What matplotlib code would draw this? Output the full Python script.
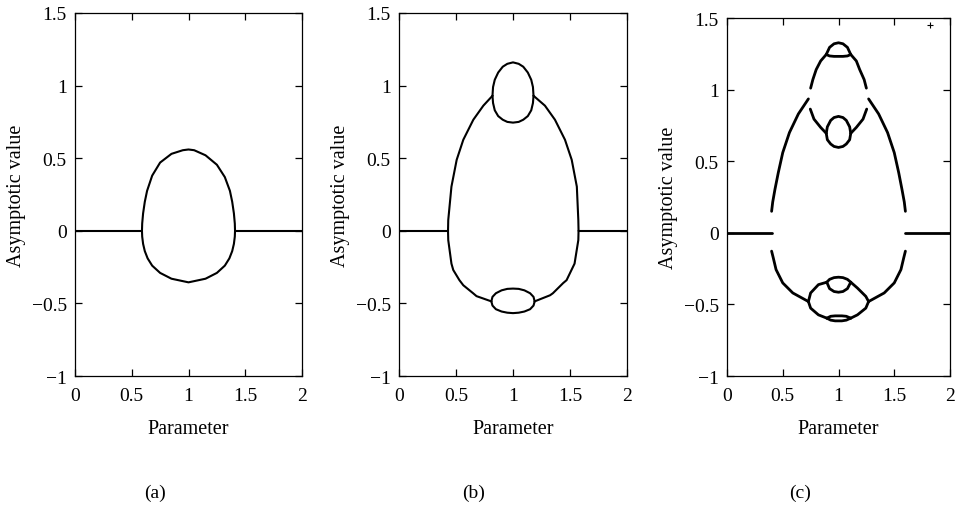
import matplotlib
matplotlib.use("Agg")
import matplotlib.pyplot as plt

plt.rcParams['font.family'] = ['Liberation Serif', 'DejaVu Serif']
plt.rcParams['mathtext.fontset'] = 'stix'

# ---------------- Panel (a) ----------------
a_zero_left_x = [0.0, 0.59]
a_zero_left_y = [0.0, 0.0]
a_zero_right_x = [1.41, 2.0]
a_zero_right_y = [0.0, 0.0]
a_up_x = [0.59, 0.592, 0.60, 0.615, 0.635, 0.68, 0.75, 0.85, 0.95, 1.0, 1.05, 1.15, 1.25, 1.32, 1.365, 1.385, 1.40, 1.408, 1.41]
a_up_y = [0.0, 0.05, 0.12, 0.2, 0.275, 0.38, 0.47, 0.53, 0.555, 0.56, 0.555, 0.52, 0.455, 0.37, 0.275, 0.2, 0.12, 0.05, 0.0]
a_lo_x = [0.59, 0.592, 0.60, 0.615, 0.64, 0.68, 0.75, 0.85, 1.0, 1.15, 1.25, 1.32, 1.36, 1.385, 1.40, 1.408, 1.41]
a_lo_y = [0.0, -0.04, -0.09, -0.14, -0.19, -0.24, -0.29, -0.33, -0.355, -0.33, -0.29, -0.24, -0.19, -0.14, -0.09, -0.04, 0.0]

# ---------------- Panel (b) ----------------
b_zero_left_x = [0.0, 0.43]
b_zero_left_y = [0.0, 0.0]
b_zero_right_x = [1.575, 2.0]
b_zero_right_y = [0.0, 0.0]
b_up_left_x = [0.43, 0.432, 0.46, 0.506, 0.564, 0.652, 0.74, 0.82]
b_up_left_y = [0.0, 0.074, 0.304, 0.489, 0.627, 0.765, 0.862, 0.93]
b_up_right_x = [1.18, 1.28, 1.368, 1.456, 1.515, 1.56, 1.573, 1.575]
b_up_right_y = [0.93, 0.862, 0.765, 0.627, 0.489, 0.304, 0.074, 0.0]
b_loop_x = [0.82, 0.825, 0.84, 0.87, 0.91, 0.95, 1.0, 1.05, 1.09, 1.13, 1.16, 1.175, 1.18]
b_loopup_y = [0.93, 0.99, 1.04, 1.09, 1.13, 1.15, 1.16, 1.15, 1.13, 1.09, 1.04, 0.99, 0.93]
b_looplo_y = [0.93, 0.88, 0.83, 0.79, 0.765, 0.75, 0.745, 0.75, 0.765, 0.79, 0.83, 0.88, 0.93]
b_lo_left_x = [0.43, 0.432, 0.46, 0.476, 0.53, 0.564, 0.65, 0.68, 0.81]
b_lo_left_y = [0.0, -0.064, -0.226, -0.27, -0.34, -0.375, -0.43, -0.45, -0.486]
b_lo_right_x = [1.19, 1.325, 1.35, 1.44, 1.47, 1.54, 1.573, 1.575]
b_lo_right_y = [-0.486, -0.444, -0.43, -0.36, -0.34, -0.226, -0.064, 0.0]
b_loop2_x = [0.81, 0.82, 0.85, 0.9, 0.95, 1.0, 1.05, 1.1, 1.15, 1.18, 1.19]
b_loop2up_y = [-0.486, -0.455, -0.43, -0.41, -0.4, -0.398, -0.4, -0.41, -0.43, -0.455, -0.486]
b_loop2lo_y = [-0.486, -0.515, -0.54, -0.556, -0.564, -0.567, -0.564, -0.556, -0.54, -0.515, -0.486]

# ---------------- Panel (c) ----------------
c_zero_left_x = [0.0, 0.40]
c_zero_left_y = [0.0, 0.0]
c_zero_right_x = [1.60, 2.0]
c_zero_right_y = [0.0, 0.0]
c_out_up_left_x = [0.40, 0.41, 0.43, 0.46, 0.50, 0.56, 0.64, 0.73]
c_out_up_left_y = [0.15, 0.215, 0.303, 0.42, 0.56, 0.70, 0.83, 0.935]
c_out_up_right_x = [1.27, 1.36, 1.44, 1.50, 1.54, 1.57, 1.59, 1.60]
c_out_up_right_y = [0.935, 0.83, 0.70, 0.56, 0.42, 0.30, 0.215, 0.15]
c_top_left_x = [0.75, 0.77, 0.80, 0.84, 0.89]
c_top_left_y = [1.01, 1.07, 1.14, 1.20, 1.245]
c_top_right_x = [1.11, 1.16, 1.19, 1.23, 1.25]
c_top_right_y = [1.245, 1.20, 1.14, 1.07, 1.01]
c_toploop_x = [0.89, 0.92, 0.96, 1.0, 1.04, 1.08, 1.11]
c_toploopup_y = [1.245, 1.295, 1.32, 1.327, 1.32, 1.295, 1.245]
c_toplooplo_y = [1.245, 1.235, 1.232, 1.232, 1.232, 1.235, 1.245]
c_mid_left_x = [0.747, 0.78, 0.84, 0.89]
c_mid_left_y = [0.864, 0.794, 0.736, 0.695]
c_mid_right_x = [1.11, 1.16, 1.22, 1.253]
c_mid_right_y = [0.695, 0.736, 0.794, 0.864]
c_midloop_x = [0.89, 0.90, 0.93, 0.96, 1.0, 1.04, 1.07, 1.10, 1.11]
c_midloopup_y = [0.695, 0.74, 0.785, 0.805, 0.813, 0.805, 0.785, 0.74, 0.695]
c_midlooplo_y = [0.695, 0.65, 0.62, 0.603, 0.596, 0.603, 0.62, 0.65, 0.695]
c_out_lo_left_x = [0.40, 0.415, 0.44, 0.50, 0.59, 0.73]
c_out_lo_left_y = [-0.128, -0.175, -0.257, -0.35, -0.42, -0.48]
c_out_lo_right_x = [1.27, 1.41, 1.50, 1.56, 1.585, 1.60]
c_out_lo_right_y = [-0.48, -0.42, -0.35, -0.257, -0.175, -0.128]
c_bigloop_left_x = [0.73, 0.75, 0.82, 0.895]
c_bigloopup_left_y = [-0.48, -0.42, -0.362, -0.345]
c_bigloopup_right_x = [1.11, 1.17, 1.245, 1.27]
c_bigloopup_right_y = [-0.345, -0.386, -0.444, -0.48]
c_biglooplo_left_y = [-0.48, -0.526, -0.573, -0.596]
c_biglooplo_right_y = [-0.596, -0.573, -0.526, -0.48]
c_sloop_x = [0.895, 0.92, 0.96, 1.0, 1.04, 1.08, 1.11]
c_sloopup_y = [-0.345, -0.325, -0.313, -0.31, -0.313, -0.325, -0.345]
c_slooplo_y = [-0.345, -0.39, -0.41, -0.415, -0.41, -0.39, -0.345]
c_bloop_x = [0.895, 0.93, 0.97, 1.0, 1.03, 1.07, 1.11]
c_bloopup_y = [-0.596, -0.583, -0.58, -0.58, -0.58, -0.583, -0.596]
c_blooplo_y = [-0.596, -0.61, -0.615, -0.615, -0.615, -0.61, -0.596]
c_iso_x = [1.82]
c_iso_y = [1.453]

xticks = [0, 0.5, 1, 1.5, 2]
xticklabels = ['0', '0.5', '1', '1.5', '2']
yticks = [-1, -0.5, 0, 0.5, 1, 1.5]
yticklabels = ['\u22121', '\u22120.5', '0', '0.5', '1', '1.5']
panel_labels = ['(a)', '(b)', '(c)']

fig = plt.figure(figsize=(9.6, 5.1), dpi=100)
W, H = 960.0, 510.0
boxes = [(75, 14, 302, 377), (399, 14, 627, 377), (727, 19, 950, 377)]
axes = []
for (l, t, r, b) in boxes:
    ax = fig.add_axes([l / W, 1 - b / H, (r - l) / W, (b - t) / H])
    axes.append(ax)

col = 'black'

def draw(ax, segs, lw):
    for xs, ys in segs:
        ax.plot(xs, ys, color=col, lw=lw, solid_capstyle='round', solid_joinstyle='round')

draw(axes[0], [
    (a_zero_left_x, a_zero_left_y), (a_zero_right_x, a_zero_right_y),
    (a_up_x, a_up_y), (a_lo_x, a_lo_y)], 1.5)

draw(axes[1], [
    (b_zero_left_x, b_zero_left_y), (b_zero_right_x, b_zero_right_y),
    (b_up_left_x, b_up_left_y), (b_up_right_x, b_up_right_y),
    (b_loop_x, b_loopup_y), (b_loop_x, b_looplo_y),
    (b_lo_left_x, b_lo_left_y), (b_lo_right_x, b_lo_right_y),
    (b_loop2_x, b_loop2up_y), (b_loop2_x, b_loop2lo_y)], 1.5)

draw(axes[2], [
    (c_zero_left_x, c_zero_left_y), (c_zero_right_x, c_zero_right_y),
    (c_out_up_left_x, c_out_up_left_y), (c_out_up_right_x, c_out_up_right_y),
    (c_top_left_x, c_top_left_y), (c_top_right_x, c_top_right_y),
    (c_toploop_x, c_toploopup_y), (c_toploop_x, c_toplooplo_y),
    (c_mid_left_x, c_mid_left_y), (c_mid_right_x, c_mid_right_y),
    (c_midloop_x, c_midloopup_y), (c_midloop_x, c_midlooplo_y),
    (c_out_lo_left_x, c_out_lo_left_y), (c_out_lo_right_x, c_out_lo_right_y),
    (c_bigloop_left_x, c_bigloopup_left_y), (c_bigloopup_right_x, c_bigloopup_right_y),
    (c_bigloop_left_x, c_biglooplo_left_y), (c_bigloopup_right_x, c_biglooplo_right_y),
    (c_sloop_x, c_sloopup_y), (c_sloop_x, c_slooplo_y),
    (c_bloop_x, c_bloopup_y), (c_bloop_x, c_blooplo_y)], 2.0)
axes[2].plot(c_iso_x, c_iso_y, marker='+', ms=4, mew=0.8, color=col, ls='none')

label_x = [155, 474, 800]
fs = 14
for i, ax in enumerate(axes):
    ax.set_xlim(0, 2)
    ax.set_ylim(-1, 1.5)
    ax.set_xticks(xticks)
    ax.set_xticklabels(xticklabels)
    ax.set_yticks(yticks)
    ax.set_yticklabels(yticklabels)
    ax.tick_params(direction='in', length=5, width=0.9, top=True, right=True,
                   labelsize=fs, pad=6, colors='black')
    ax.tick_params(axis='x', pad=8)
    for s in ax.spines.values():
        s.set_linewidth(0.9)
    ax.set_xlabel('Parameter', fontsize=fs + 0.5, labelpad=11)
    ax.set_ylabel('Asymptotic value', fontsize=fs + 0.5, labelpad=4)
    fig.text(label_x[i] / W, 1 - 493 / H, panel_labels[i], ha='center', va='center', fontsize=fs)

fig.savefig('out.png', dpi=100)
